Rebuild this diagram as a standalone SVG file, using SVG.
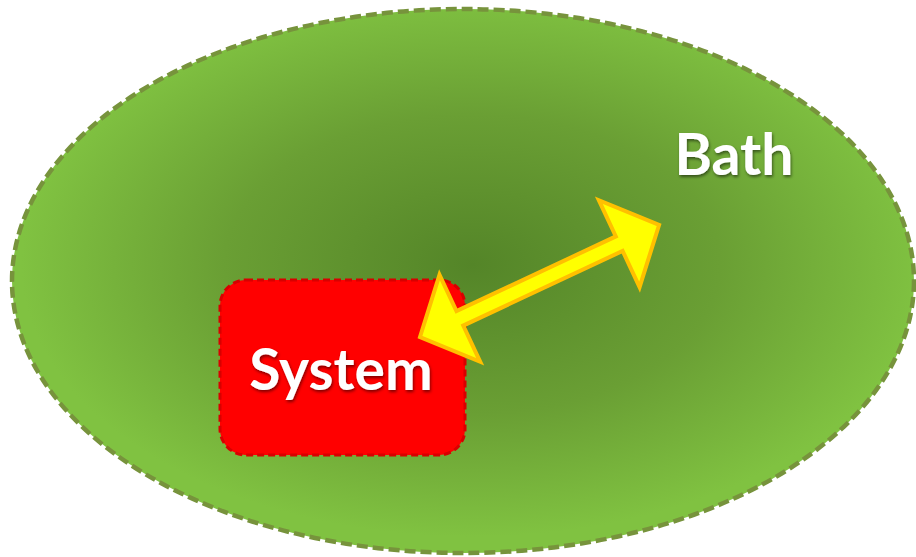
<svg xmlns="http://www.w3.org/2000/svg" width="916" height="557" viewBox="0 0 916 557">
  <defs>
    <radialGradient id="bathGrad" cx="0.51" cy="0.47" r="0.5">
      <stop offset="0" stop-color="#548528"/>
      <stop offset="0.55" stop-color="#6a9f34"/>
      <stop offset="1" stop-color="#80c241"/>
    </radialGradient>
    <filter id="txtShadow" x="-20%" y="-30%" width="140%" height="160%">
      <feDropShadow dx="1" dy="2" stdDeviation="1.5" flood-color="#000" flood-opacity="0.5"/>
    </filter>
  </defs>
  <style>
    .label { font-family: Lato, "Open Sans", "Liberation Sans", sans-serif; font-weight: bold; font-size: 57px; fill: #ffffff; text-anchor: middle; }
  </style>
  <rect width="916" height="557" fill="#ffffff"/>
  <g id="bath">
    <ellipse cx="463" cy="281" rx="451" ry="272" fill="url(#bathGrad)" stroke="#77933c" stroke-width="4.5" stroke-dasharray="11 5"/>
    <text class="label" x="734" y="175" filter="url(#txtShadow)">Bath</text>
  </g>
  <g id="system">
    <rect x="220" y="280" width="245" height="175" rx="26" ry="26" fill="#ff0000" stroke="#d80000" stroke-width="3" stroke-dasharray="7 4"/>
    <text class="label" x="341" y="390" filter="url(#txtShadow)">System</text>
  </g>
  <g id="connectors">
    <path d="M0,0 L44,-48 L44,-8 L220,-8 L220,-48 L264,0 L220,48 L220,8 L44,8 L44,48 Z" transform="translate(420,337) rotate(-25.1)" fill="#ffff00" stroke="#ffc000" stroke-width="4" stroke-linejoin="miter"/>
  </g>
</svg>
